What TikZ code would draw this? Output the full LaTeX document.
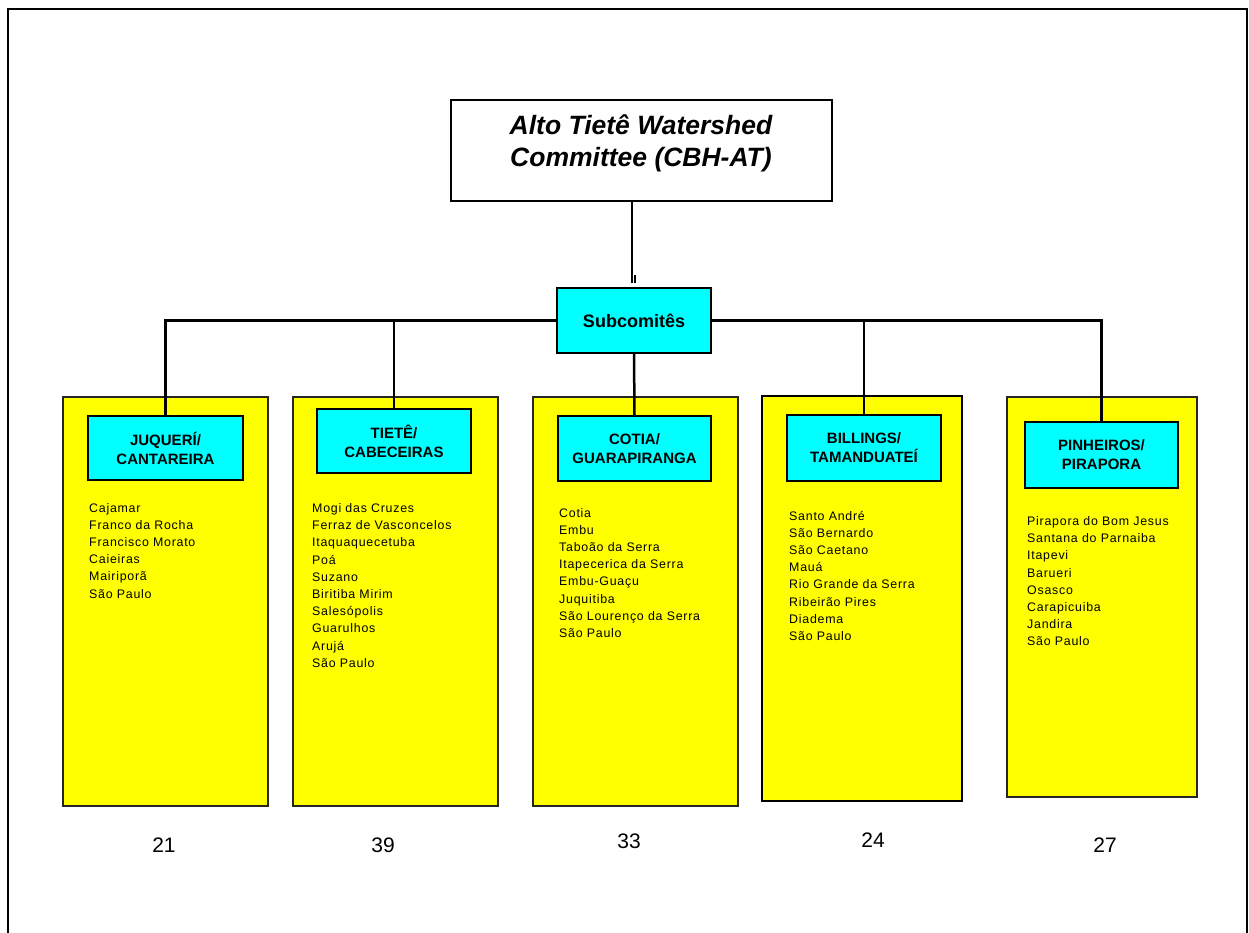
\documentclass[tikz,border=0pt]{standalone}
\usepackage{fontspec}
\setmainfont{Liberation Sans}
\newfontfamily\listfont[LetterSpace=6]{Liberation Sans}
\definecolor{ryellow}{HTML}{FFFF00}
\definecolor{rcyan}{HTML}{00FFFF}
\tikzset{
  ybox/.style={draw=black!85, line width=1.3pt, fill=ryellow, anchor=north west, inner sep=0pt, outer sep=0pt},
  cbox/.style={draw=black, line width=2.6pt, fill=rcyan, anchor=north west, inner sep=0pt, outer sep=0pt, align=center,
    font=\fontsize{15}{19}\selectfont\bfseries},
  wbox/.style={draw=black, line width=1.4pt, fill=white, anchor=north west, inner sep=0pt, outer sep=0pt},
  conn/.style={draw=black, line width=2.5pt},
  listtxt/.style={anchor=base west, inner sep=0pt, font=\listfont\fontsize{12.4}{17.2}\selectfont},
  numtxt/.style={inner sep=0pt, font=\fontsize{21}{24}\selectfont},
}
\begin{document}
\begin{tikzpicture}[x=1pt, y=-1pt]
\useasboundingbox (0,0) rectangle (1249,933);
% outer frame
\draw[line width=2.4pt] (8,934) -- (8,9) -- (1247,9) -- (1247,934);

% title
\node[wbox, minimum width=381pt, minimum height=101pt] (title) at (451,100) {};
\node[inner sep=0pt, align=center, font=\fontsize{26.5}{32}\selectfont\bfseries\itshape] (titletext) at (641,143) {Alto Tietê Watershed\\Committee (CBH-AT)};

% subcomites
\node[cbox, minimum width=154pt, minimum height=65pt, font=\fontsize{18}{22}\selectfont\bfseries] (sub) at (557,288) {Subcomitês};

% yellow panels
\node[ybox, minimum width=205pt, minimum height=409pt] (y1) at (63,397) {};
\node[ybox, minimum width=205pt, minimum height=409pt] (y2) at (293,397) {};
\node[ybox, minimum width=205pt, minimum height=409pt] (y3) at (533,397) {};
\node[ybox, draw=black, line width=2.6pt, minimum width=200pt, minimum height=405pt] (y4) at (762,396) {};
\node[ybox, minimum width=190pt, minimum height=400pt] (y5) at (1007,397) {};

% cyan headers
\node[cbox, minimum width=155pt, minimum height=64pt] (c1) at (88,416) {JUQUERÍ/\\CANTAREIRA};
\node[cbox, minimum width=154pt, minimum height=64pt] (c2) at (317,409) {TIETÊ/\\CABECEIRAS};
\node[cbox, minimum width=153pt, minimum height=65pt] (c3) at (558,416) {COTIA/\\GUARAPIRANGA};
\node[cbox, minimum width=154pt, minimum height=66pt] (c4) at (787,415) {BILLINGS/\\TAMANDUATEÍ};
\node[cbox, minimum width=153pt, minimum height=66pt] (c5) at (1025,422) {PINHEIROS/\\PIRAPORA};

% connectors
\coordinate (tick) at (632,283);
\draw[conn] (title.south -| tick) -- (tick);
\draw[line width=1.6pt] (634.8,275) -- (634.8,283);
\draw[conn] (sub.west) -| (c1.north);
\draw[conn] (sub.west) -| (c2.north);
\draw[conn] (sub.south) -- (c3.north);
\draw[conn] (sub.east) -| (c4.north);
\draw[conn] (sub.east) -| (c5.north);

% lists
\node[listtxt] (l1) at (89,512) {\begin{tabular}[t]{@{}l@{}}Cajamar\\Franco da Rocha\\Francisco Morato\\Caieiras\\Mairiporã\\São Paulo\end{tabular}};
\node[listtxt] (l2) at (312,512.5) {\begin{tabular}[t]{@{}l@{}}Mogi das Cruzes\\Ferraz de Vasconcelos\\Itaquaquecetuba\\Poá\\Suzano\\Biritiba Mirim\\Salesópolis\\Guarulhos\\Arujá\\São Paulo\end{tabular}};
\node[listtxt] (l3) at (559,517) {\begin{tabular}[t]{@{}l@{}}Cotia\\Embu\\Taboão da Serra\\Itapecerica da Serra\\Embu-Guaçu\\Juquitiba\\São Lourenço da Serra\\São Paulo\end{tabular}};
\node[listtxt] (l4) at (789,520) {\begin{tabular}[t]{@{}l@{}}Santo André\\São Bernardo\\São Caetano\\Mauá\\Rio Grande da Serra\\Ribeirão Pires\\Diadema\\São Paulo\end{tabular}};
\node[listtxt] (l5) at (1027,525.5) {\begin{tabular}[t]{@{}l@{}}Pirapora do Bom Jesus\\Santana do Parnaiba\\Itapevi\\Barueri\\Osasco\\Carapicuiba\\Jandira\\São Paulo\end{tabular}};

% numbers
\node[numtxt] (n1) at (164,845) {21};
\node[numtxt] (n2) at (383,845) {39};
\node[numtxt] (n3) at (629,841) {33};
\node[numtxt] (n4) at (873,840.5) {24};
\node[numtxt] (n5) at (1105,845) {27};
\end{tikzpicture}
\end{document}
